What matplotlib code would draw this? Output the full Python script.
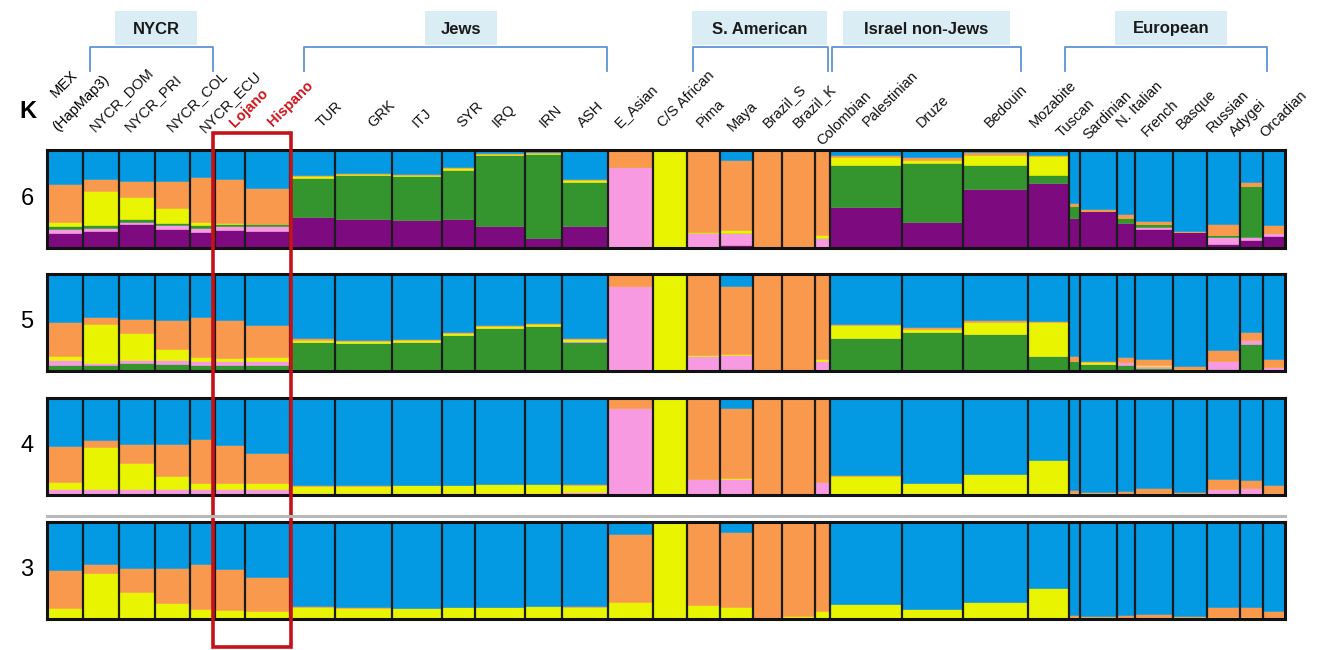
import numpy as np
import matplotlib
matplotlib.use("Agg")
import matplotlib.pyplot as plt
from matplotlib.patches import Rectangle

plt.rcParams["font.family"] = ["Liberation Sans", "DejaVu Sans"]

# populations, left to right, and how many individuals each block holds
populations = [
    "MEX", "NYCR_DOM", "NYCR_PRI", "NYCR_COL", "NYCR_ECU", "Lojano", "Hispano",
    "TUR", "GRK", "ITJ", "SYR", "IRQ", "IRN", "ASH", "E_Asian", "C/S African",
    "Pima", "Maya", "Brazil_S", "Brazil_K", "Colombian", "Palestinian", "Druze",
    "Bedouin", "Mozabite", "Tuscan", "Sardinian", "N. Italian", "French",
    "Basque", "Russian", "Adygei", "Orcadian",
]
n_samples = [36, 36, 36, 35, 25, 30, 45, 45, 57, 50, 33, 50, 37, 46, 45, 34,
             33, 33, 29, 33, 15, 72, 61, 65, 41, 11, 37, 18, 38, 34, 33, 23, 22]

# mean ancestry per population, components listed bottom -> top
k6_components = ["purple", "pink", "green", "yellow", "orange", "blue"]
k6 = [
    [0.15, 0.04, 0.03, 0.05, 0.38, 0.35],
    [0.17, 0.03, 0.03, 0.35, 0.12, 0.30],
    [0.24, 0.03, 0.03, 0.22, 0.16, 0.32],
    [0.19, 0.04, 0.03, 0.15, 0.27, 0.32],
    [0.16, 0.04, 0.03, 0.04, 0.45, 0.28],
    [0.18, 0.04, 0.02, 0.02, 0.44, 0.30],
    [0.17, 0.05, 0.02, 0.00, 0.37, 0.39],
    [0.32, 0.00, 0.39, 0.02, 0.02, 0.25],
    [0.30, 0.00, 0.44, 0.02, 0.01, 0.23],
    [0.29, 0.00, 0.44, 0.02, 0.01, 0.24],
    [0.30, 0.00, 0.50, 0.02, 0.01, 0.17],
    [0.22, 0.00, 0.73, 0.01, 0.01, 0.03],
    [0.10, 0.00, 0.86, 0.01, 0.01, 0.02],
    [0.22, 0.00, 0.45, 0.02, 0.01, 0.30],
    [0.01, 0.82, 0.00, 0.00, 0.17, 0.00],
    [0.00, 0.00, 0.00, 1.00, 0.00, 0.00],
    [0.01, 0.14, 0.00, 0.01, 0.84, 0.00],
    [0.03, 0.12, 0.00, 0.03, 0.72, 0.10],
    [0.00, 0.00, 0.00, 0.00, 1.00, 0.00],
    [0.00, 0.01, 0.00, 0.00, 0.99, 0.00],
    [0.00, 0.10, 0.00, 0.03, 0.87, 0.00],
    [0.42, 0.00, 0.43, 0.08, 0.02, 0.05],
    [0.27, 0.00, 0.60, 0.03, 0.03, 0.07],
    [0.60, 0.00, 0.25, 0.10, 0.03, 0.02],
    [0.66, 0.00, 0.08, 0.20, 0.01, 0.05],
    [0.31, 0.00, 0.12, 0.00, 0.03, 0.54],
    [0.38, 0.00, 0.00, 0.00, 0.02, 0.60],
    [0.26, 0.00, 0.05, 0.00, 0.04, 0.65],
    [0.19, 0.02, 0.03, 0.00, 0.04, 0.72],
    [0.16, 0.00, 0.00, 0.00, 0.01, 0.83],
    [0.04, 0.07, 0.02, 0.00, 0.12, 0.75],
    [0.08, 0.03, 0.52, 0.00, 0.04, 0.33],
    [0.12, 0.03, 0.00, 0.00, 0.08, 0.77],
]

k5_components = ["green", "pink", "yellow", "orange", "blue"]
k5 = [
    [0.06, 0.05, 0.04, 0.36, 0.49],
    [0.06, 0.02, 0.40, 0.08, 0.44],
    [0.08, 0.03, 0.28, 0.15, 0.46],
    [0.07, 0.04, 0.12, 0.30, 0.47],
    [0.06, 0.04, 0.04, 0.42, 0.44],
    [0.06, 0.04, 0.03, 0.40, 0.47],
    [0.06, 0.04, 0.04, 0.33, 0.53],
    [0.30, 0.00, 0.02, 0.02, 0.66],
    [0.29, 0.00, 0.02, 0.01, 0.68],
    [0.30, 0.00, 0.02, 0.01, 0.67],
    [0.37, 0.00, 0.02, 0.01, 0.60],
    [0.44, 0.00, 0.02, 0.01, 0.53],
    [0.46, 0.00, 0.02, 0.01, 0.51],
    [0.30, 0.01, 0.02, 0.01, 0.66],
    [0.01, 0.87, 0.00, 0.12, 0.00],
    [0.00, 0.00, 1.00, 0.00, 0.00],
    [0.00, 0.15, 0.01, 0.84, 0.00],
    [0.02, 0.14, 0.02, 0.70, 0.12],
    [0.00, 0.00, 0.00, 1.00, 0.00],
    [0.00, 0.01, 0.00, 0.99, 0.00],
    [0.00, 0.10, 0.02, 0.88, 0.00],
    [0.34, 0.00, 0.13, 0.01, 0.52],
    [0.40, 0.00, 0.03, 0.02, 0.55],
    [0.38, 0.00, 0.13, 0.02, 0.47],
    [0.15, 0.00, 0.36, 0.01, 0.48],
    [0.10, 0.00, 0.00, 0.05, 0.85],
    [0.07, 0.00, 0.02, 0.01, 0.90],
    [0.06, 0.03, 0.00, 0.05, 0.86],
    [0.03, 0.02, 0.01, 0.06, 0.88],
    [0.00, 0.00, 0.02, 0.03, 0.95],
    [0.02, 0.08, 0.00, 0.12, 0.78],
    [0.28, 0.04, 0.00, 0.08, 0.60],
    [0.00, 0.04, 0.00, 0.08, 0.88],
]

k4_components = ["pink", "yellow", "orange", "blue"]
k4 = [
    [0.06, 0.07, 0.38, 0.49],
    [0.06, 0.43, 0.08, 0.43],
    [0.06, 0.27, 0.20, 0.47],
    [0.06, 0.14, 0.33, 0.47],
    [0.06, 0.06, 0.46, 0.42],
    [0.06, 0.06, 0.40, 0.48],
    [0.06, 0.06, 0.31, 0.57],
    [0.02, 0.07, 0.01, 0.90],
    [0.02, 0.07, 0.01, 0.90],
    [0.02, 0.08, 0.00, 0.90],
    [0.02, 0.08, 0.00, 0.90],
    [0.02, 0.09, 0.00, 0.89],
    [0.02, 0.09, 0.00, 0.89],
    [0.03, 0.07, 0.01, 0.89],
    [0.90, 0.00, 0.10, 0.00],
    [0.00, 1.00, 0.00, 0.00],
    [0.16, 0.00, 0.84, 0.00],
    [0.16, 0.02, 0.72, 0.10],
    [0.00, 0.00, 1.00, 0.00],
    [0.01, 0.00, 0.99, 0.00],
    [0.13, 0.00, 0.87, 0.00],
    [0.01, 0.19, 0.01, 0.79],
    [0.02, 0.10, 0.00, 0.88],
    [0.02, 0.20, 0.00, 0.78],
    [0.02, 0.34, 0.00, 0.64],
    [0.00, 0.02, 0.03, 0.95],
    [0.00, 0.02, 0.01, 0.97],
    [0.01, 0.00, 0.03, 0.96],
    [0.02, 0.00, 0.05, 0.93],
    [0.00, 0.01, 0.02, 0.97],
    [0.06, 0.00, 0.10, 0.84],
    [0.07, 0.00, 0.08, 0.85],
    [0.02, 0.00, 0.08, 0.90],
]

k3_components = ["yellow", "orange", "blue"]
k3 = [
    [0.11, 0.40, 0.49],
    [0.47, 0.10, 0.43],
    [0.28, 0.25, 0.47],
    [0.16, 0.37, 0.47],
    [0.10, 0.47, 0.43],
    [0.09, 0.43, 0.48],
    [0.08, 0.35, 0.57],
    [0.12, 0.01, 0.87],
    [0.11, 0.01, 0.88],
    [0.11, 0.00, 0.89],
    [0.12, 0.00, 0.88],
    [0.12, 0.00, 0.88],
    [0.13, 0.00, 0.87],
    [0.12, 0.01, 0.87],
    [0.18, 0.70, 0.12],
    [1.00, 0.00, 0.00],
    [0.14, 0.86, 0.00],
    [0.12, 0.78, 0.10],
    [0.00, 1.00, 0.00],
    [0.03, 0.97, 0.00],
    [0.08, 0.92, 0.00],
    [0.15, 0.00, 0.85],
    [0.10, 0.00, 0.90],
    [0.18, 0.00, 0.82],
    [0.32, 0.00, 0.68],
    [0.02, 0.02, 0.96],
    [0.02, 0.01, 0.97],
    [0.01, 0.03, 0.96],
    [0.01, 0.04, 0.95],
    [0.02, 0.01, 0.97],
    [0.02, 0.10, 0.88],
    [0.02, 0.10, 0.88],
    [0.01, 0.07, 0.92],
]

palette = {
    "blue": "#0399E3", "orange": "#F8994D", "yellow": "#E8F400",
    "green": "#34952F", "purple": "#7E0A80", "pink": "#F79AE2",
}

groups = ["NYCR", "Jews", "S. American", "Israel non-Jews", "European"]

W, H = 1326, 650
fig = plt.figure(figsize=(W / 100, H / 100), dpi=100)


def px_axes(x0, y0, x1, y1):
    return fig.add_axes([x0 / W, 1 - y1 / H, (x1 - x0) / W, (y1 - y0) / H])


panels = [
    ("6", k6, k6_components, 150, 248),
    ("5", k5, k5_components, 274, 371),
    ("4", k4, k4_components, 398, 495),
    ("3", k3, k3_components, 522, 619),
]

edges = np.concatenate([[0], np.cumsum(n_samples)])
left = edges[:-1]
total = edges[-1]

for k_label, table, comps, y0, y1 in panels:
    ax = px_axes(47, y0, 1285, y1)
    frac = np.array(table, dtype=float)
    frac = frac / frac.sum(axis=1, keepdims=True)
    bottom = np.zeros(len(populations))
    for j, comp in enumerate(comps):
        ax.bar(left, frac[:, j], width=n_samples, bottom=bottom, align="edge",
               color=palette[comp], edgecolor=palette[comp], linewidth=0.4)
        bottom += frac[:, j]
    ax.vlines(edges[1:-1], 0, 1, color="#1c1c1c", lw=1.6)
    ax.set_xlim(0, total)
    ax.set_ylim(0, 1)
    ax.set_xticks([])
    ax.set_yticks([])
    for s in ax.spines.values():
        s.set_linewidth(2.2)
        s.set_color("#111111")

# overlay for labels, brackets and highlight box
ov = fig.add_axes([0, 0, 1, 1], zorder=10)
ov.set_xlim(0, W)
ov.set_ylim(H, 0)
ov.axis("off")

ov.text(28, 112, "K", fontsize=17, fontweight="bold", ha="center", va="center")
for k_label, _, _, y0, y1 in panels:
    ov.text(27, (y0 + y1) / 2, k_label, fontsize=17, ha="center", va="center")

ov.plot([47, 1285], [516, 516], color="#b8b8b8", lw=2.2)

label_pos = [
    (97, 134), (132, 134), (174, 134), (207, 135), (237, 130), (275, 129),
    (324, 130), (375, 130), (420, 130), (464, 130), (500, 130), (547, 130),
    (585, 130), (622, 130), (665, 130), (704, 130), (735, 134), (770, 130),
    (800, 130), (824, 148), (870, 129), (924, 130), (992, 130), (1037, 130),
    (1064, 140), (1090, 142), (1124, 130), (1149, 139), (1184, 132),
    (1214, 135), (1237, 139), (1267, 140),
]
ov.text(58, 100, "MEX", fontsize=10.5, rotation=45, rotation_mode="anchor",
        ha="left", va="bottom")
ov.text(60, 134, "(HapMap3)", fontsize=10.5, rotation=45, rotation_mode="anchor",
        ha="left", va="bottom")
for name, (x, y) in zip(populations[1:], label_pos):
    red = name in ("Lojano", "Hispano")
    ov.text(x, y, name, fontsize=10.5, rotation=45, rotation_mode="anchor",
            ha="left", va="bottom", color="#D0141C" if red else "#111111",
            fontweight="bold" if red else "normal")

bracket_x = [(90, 213), (304, 607), (693, 828), (832, 1021), (1065, 1267)]
title_box = [(115, 197), (425, 497), (692, 827), (843, 1010), (1115, 1227)]
for name, (bx0, bx1), (tx0, tx1) in zip(groups, bracket_x, title_box):
    ov.plot([bx0, bx0, bx1, bx1], [71, 47, 47, 71], color="#5F93D6", lw=1.3)
    ov.add_patch(Rectangle((tx0, 11), tx1 - tx0, 34, facecolor="#DAECF4",
                           edgecolor="none", zorder=0))
    ov.text((tx0 + tx1) / 2, 29, name, fontsize=12, fontweight="bold",
            ha="center", va="center", color="#1a1a1a")

ov.add_patch(Rectangle((213, 133), 78, 514, fill=False, edgecolor="#C41218",
                       lw=2.6))

fig.savefig("out.png", dpi=100)
plt.close(fig)
